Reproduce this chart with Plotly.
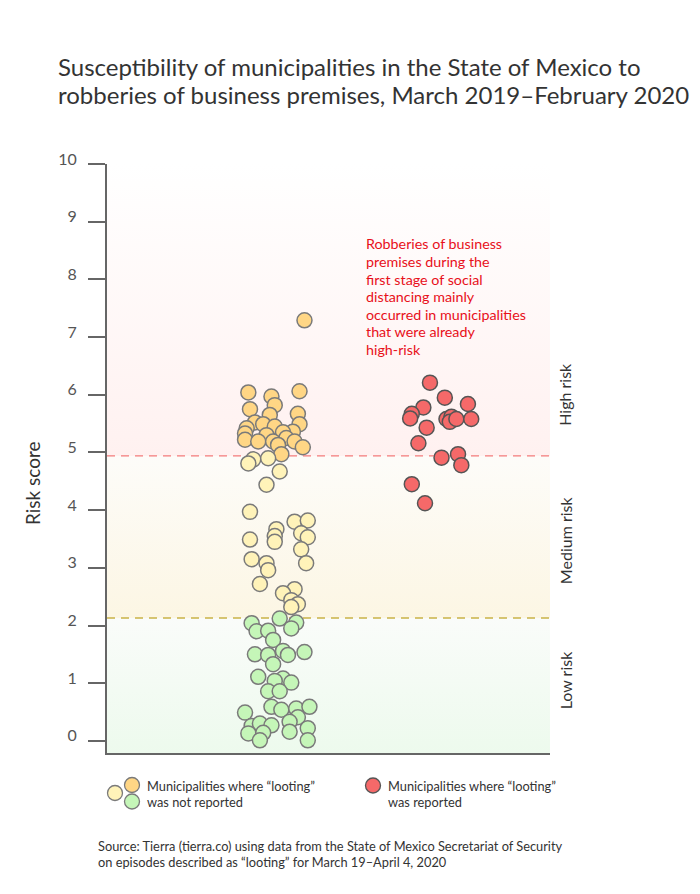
import plotly.graph_objects as go

# ---------------- data ----------------
TITLE_LINES = [
    "Susceptibility of municipalities in the State of Mexico to",
    "robberies of business premises, March 2019–February 2020",
]
Y_TICKS = [0, 1, 2, 3, 4, 5, 6, 7, 8, 9, 10]
HIGH_THRESHOLD = 4.94
MEDIUM_THRESHOLD = 2.13
BAND_LABELS = ["High risk", "Medium risk", "Low risk"]
BAND_LABEL_Y = [6.0, 3.48, 1.05]

GROUPS = ["not reported", "reported"]
GROUP_POS = [0, 1]

# municipalities where "looting" was not reported
not_reported_jitter = [
    0.18, -0.16, 0.15, -0.02, 0.00, -0.15, 0.14, -0.03, -0.12, -0.07,
    -0.17, 0.15, 0.00, -0.18, -0.05, 0.11, 0.05, -0.18, -0.10, -0.01,
    0.07, 0.12, 0.02, 0.17, 0.04,
    -0.13, -0.16, -0.04, 0.03, -0.05, -0.15, 0.01, 0.00, 0.00, 0.12,
    0.20, 0.16, 0.20, -0.15, 0.16, -0.14, -0.05, -0.04, 0.19, -0.09,
    0.12, 0.05, 0.10, 0.14, 0.10,
    -0.14, 0.03, 0.13, 0.10, -0.11, -0.04, -0.01, -0.12, -0.04, 0.05,
    0.08, 0.18, -0.01, -0.10, 0.05, 0.00, 0.10, -0.04, 0.03, -0.18,
    -0.02, 0.04, 0.13, 0.21, 0.14, 0.09, -0.14, -0.09, -0.02, 0.20,
    -0.16, -0.07, 0.09, -0.09, 0.20,
]
not_reported_score = [
    7.29, 6.04, 6.06, 5.97, 5.82, 5.75, 5.67, 5.65, 5.52, 5.49,
    5.42, 5.49, 5.45, 5.33, 5.30, 5.36, 5.35, 5.22, 5.19, 5.19,
    5.25, 5.19, 5.13, 5.09, 4.97,
    4.88, 4.81, 4.90, 4.67, 4.44, 3.97, 3.67, 3.55, 3.45, 3.80,
    3.82, 3.60, 3.53, 3.49, 3.32, 3.15, 3.08, 2.96, 3.08, 2.72,
    2.63, 2.56, 2.44, 2.37, 2.32,
    2.04, 2.12, 2.05, 1.95, 1.90, 1.91, 1.75, 1.50, 1.49, 1.56,
    1.49, 1.54, 1.33, 1.11, 1.08, 1.04, 1.01, 0.86, 0.86, 0.49,
    0.59, 0.54, 0.56, 0.59, 0.41, 0.33, 0.26, 0.30, 0.27, 0.22,
    0.13, 0.14, 0.16, 0.01, 0.01,
]

# municipalities where "looting" was reported
reported_jitter = [
    -0.06, 0.03, 0.17, -0.10, -0.17, -0.18, 0.04, 0.07, 0.06, 0.10,
    0.19, -0.08, -0.13, 0.01, 0.11, 0.13, -0.17, -0.09,
]
reported_score = [
    6.21, 5.95, 5.84, 5.78, 5.67, 5.59, 5.58, 5.62, 5.53, 5.58,
    5.58, 5.43, 5.16, 4.91, 4.97, 4.78, 4.45, 4.12,
]

NOTE_LINES = [
    "Robberies of business",
    "premises during the",
    "first stage of social",
    "distancing mainly",
    "occurred in municipalities",
    "that were already",
    "high-risk",
]
LEGEND_LINES_1 = ["Municipalities where “looting”", "was not reported"]
LEGEND_LINES_2 = ["Municipalities where “looting”", "was reported"]
SOURCE_LINES = [
    "Source: Tierra (tierra.co) using data from the State of Mexico Secretariat of Security",
    "on episodes described as “looting” for March 19–April 4, 2020",
]

# ---------------- styling ----------------
FONT = "Lato"
C_HIGH = "#FFD685"
C_MED = "#FFF3B9"
C_LOW = "#C5F6B8"
C_RED = "#F56969"
TXT = "#333333"
W, H = 700, 894
OFF = 8  # page offset of the figure in the browser window
M_L, M_R, M_T, M_B = 99, 158, 156, 149
Y_RANGE = [-0.21, 10]
X_RANGE = [-1.016, 1.667]


def band_color(v):
    if v >= HIGH_THRESHOLD:
        return C_HIGH
    if v >= MEDIUM_THRESHOLD:
        return C_MED
    return C_LOW


def paper_x(px):
    return (px - OFF - M_L) / (W - M_L - M_R)


def paper_y(py):
    return (H - M_B - (py - OFF)) / (H - M_T - M_B)


fig = go.Figure()

# background bands with vertical gradients
bands = [
    (HIGH_THRESHOLD, Y_RANGE[1], "rgb(255,241,240)", "rgb(255,255,255)"),
    (MEDIUM_THRESHOLD, HIGH_THRESHOLD, "rgb(252,246,228)", "rgb(253,252,249)"),
    (Y_RANGE[0], MEDIUM_THRESHOLD, "rgb(237,250,237)", "rgb(250,252,250)"),
]
for lo, hi, c_lo, c_hi in bands:
    fig.add_trace(go.Scatter(
        x=[X_RANGE[0], X_RANGE[1], X_RANGE[1], X_RANGE[0], X_RANGE[0]],
        y=[lo, lo, hi, hi, lo],
        mode="none", fill="toself",
        fillgradient=dict(type="vertical", colorscale=[[0, c_lo], [1, c_hi]],
                          start=lo, stop=hi),
        hoverinfo="skip", showlegend=False,
    ))

# threshold lines (drawn above the bands, below the markers)
for thr, col in [(HIGH_THRESHOLD, "#F47B7B"), (MEDIUM_THRESHOLD, "#C9B347")]:
    fig.add_trace(go.Scatter(
        x=X_RANGE, y=[thr, thr], mode="lines",
        line=dict(color=col, width=1.3, dash="8px,6px"),
        hoverinfo="skip", showlegend=False,
    ))

fig.add_trace(go.Scatter(
    x=[GROUP_POS[0] + j for j in not_reported_jitter],
    y=not_reported_score,
    mode="markers",
    marker=dict(size=15, color=[band_color(v) for v in not_reported_score],
                line=dict(color="#7a7a7a", width=1.5)),
    showlegend=False, name=GROUPS[0],
))
fig.add_trace(go.Scatter(
    x=[GROUP_POS[1] + j for j in reported_jitter],
    y=reported_score,
    mode="markers",
    marker=dict(size=15, color=C_RED, line=dict(color="#555555", width=1.5)),
    showlegend=False, name=GROUPS[1],
))

# legend symbols
for (cx, cy, col, lc) in [(115, 793, C_MED, "#7a7a7a"), (132, 785, C_HIGH, "#7a7a7a"),
                          (132, 801.5, C_LOW, "#7a7a7a"), (373, 785.5, C_RED, "#555555")]:
    fig.add_shape(type="circle", xref="paper", yref="paper", xsizemode="pixel", ysizemode="pixel",
                  xanchor=paper_x(cx), yanchor=paper_y(cy), x0=-7.5, x1=7.5, y0=-7.5, y1=7.5,
                  fillcolor=col, line=dict(color=lc, width=1.3), layer="above")


def add_text(text, sx, sy, size, color=TXT, xanchor="left", angle=0, yref="paper"):
    fig.add_annotation(text=text, x=paper_x(sx), y=(paper_y(sy) if yref == "paper" else sy),
                       xref="paper", yref=yref, xanchor=xanchor, yanchor="middle",
                       textangle=angle, showarrow=False,
                       font=dict(family=FONT, size=size, color=color))


# title
for i, line in enumerate(TITLE_LINES):
    add_text(line, 56, 67 + 28 * i, 24)
# y-axis title
add_text("Risk score", 32, 483, 19, xanchor="center", angle=-90)
# band labels
for lab, yv in zip(BAND_LABELS, BAND_LABEL_Y):
    add_text(lab, 565, yv, 16, xanchor="center", angle=-90, yref="y")
# red note
for i, line in enumerate(NOTE_LINES):
    add_text(line, 364, 244 + 17.5 * i, 14.3, color="#E8101A")
# legend texts
for i, line in enumerate(LEGEND_LINES_1):
    add_text(line, 145, 786 + 15.7 * i, 12.8)
for i, line in enumerate(LEGEND_LINES_2):
    add_text(line, 386, 786 + 15.7 * i, 12.8)
# source
for i, line in enumerate(SOURCE_LINES):
    add_text(line, 96, 846 + 15.5 * i, 12.8)

fig.update_layout(
    width=W, height=H,
    margin=dict(l=M_L, r=M_R, t=M_T, b=M_B),
    paper_bgcolor="white", plot_bgcolor="white",
    xaxis=dict(range=X_RANGE, showline=True, linecolor="#666666", linewidth=2,
               showticklabels=False, ticks="", showgrid=False, zeroline=False, fixedrange=True),
    yaxis=dict(range=Y_RANGE, tickvals=Y_TICKS, showline=True, linecolor="#666666", linewidth=2,
               ticks="outside", ticklen=17, tickwidth=2, tickcolor="#666666",
               showgrid=False, zeroline=False,
               tickfont=dict(family=FONT, size=16, color="#555555"),
               ticklabelstandoff=8, ticklabelshift=-5),
    showlegend=False,
)

fig.write_html("out.html")
